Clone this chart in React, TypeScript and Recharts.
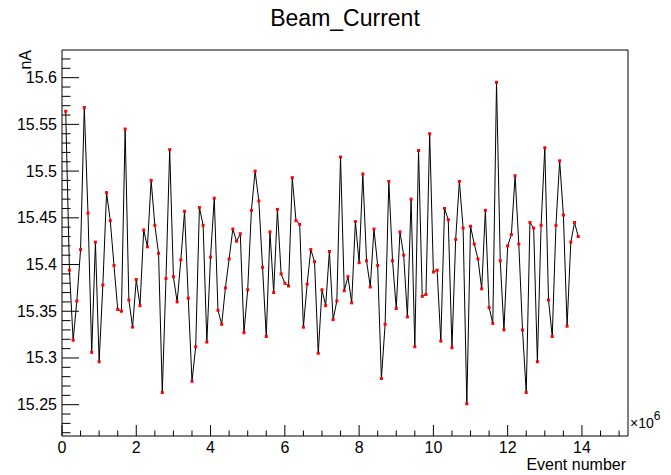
import React from "react";
import { LineChart, Line, XAxis, YAxis } from "recharts";

// Beam current per 100k events (nA)
const beamCurrent = [
  15.564, 15.394, 15.319, 15.361, 15.416, 15.568, 15.455, 15.306, 15.424, 15.296,
  15.378, 15.477, 15.447, 15.399, 15.352, 15.35, 15.545, 15.362, 15.333, 15.384,
  15.356, 15.437, 15.419, 15.49, 15.442, 15.412, 15.263, 15.385, 15.523, 15.387,
  15.36, 15.405, 15.457, 15.364, 15.275, 15.312, 15.461, 15.442, 15.317, 15.408,
  15.471, 15.351, 15.336, 15.375, 15.406, 15.438, 15.425, 15.433, 15.327, 15.373,
  15.458, 15.5, 15.468, 15.397, 15.323, 15.435, 15.37, 15.459, 15.39, 15.38,
  15.377, 15.493, 15.447, 15.443, 15.333, 15.379, 15.416, 15.403, 15.305, 15.373,
  15.356, 15.414, 15.341, 15.361, 15.515, 15.372, 15.387, 15.359, 15.446, 15.402,
  15.497, 15.404, 15.376, 15.438, 15.399, 15.278, 15.336, 15.489, 15.404, 15.353,
  15.435, 15.41, 15.344, 15.47, 15.312, 15.522, 15.366, 15.368, 15.54, 15.392,
  15.394, 15.318, 15.46, 15.448, 15.311, 15.427, 15.489, 15.439, 15.251, 15.441,
  15.422, 15.406, 15.374, 15.458, 15.354, 15.337, 15.595, 15.404, 15.33, 15.42,
  15.432, 15.495, 15.422, 15.33, 15.263, 15.445, 15.439, 15.296, 15.442, 15.525,
  15.362, 15.323, 15.442, 15.511, 15.453, 15.334, 15.424, 15.445, 15.43,
];

const eventStep = 100000;
const xMajorTicks = [0, 2, 4, 6, 8, 10, 12, 14]; // x10^6
const xMinorStep = 0.5;
const yMajorTicks = [15.25, 15.3, 15.35, 15.4, 15.45, 15.5, 15.55, 15.6];
const yMinorStep = 0.01;

const xDomain: [number, number] = [0, 15.24e6];
const yDomain: [number, number] = [15.2165, 15.6296];

const W = 671;
const H = 475;
const FONT = "'Liberation Sans', Arial, Helvetica, sans-serif";

const data = beamCurrent.map((v, i) => ({ event: (i + 1) * eventStep, current: v }));

const xTicks: number[] = [];
for (let k = 0; k * xMinorStep * 1e6 <= xDomain[1]; k++) xTicks.push(k * xMinorStep * 1e6);

const yTicks: number[] = [];
for (let k = Math.ceil(yDomain[0] / yMinorStep); k * yMinorStep <= yDomain[1]; k++) {
  yTicks.push(Math.round(k * yMinorStep * 100) / 100);
}

const isYMajor = (v: number) => yMajorTicks.some((t) => Math.abs(t - v) < 1e-6);
const isXMajor = (v: number) => xMajorTicks.some((t) => Math.abs(t * 1e6 - v) < 1);

// ticks point into the frame, labels only on the major ones
function YTick(props: any) {
  const { x, y, payload } = props;
  const major = isYMajor(payload.value);
  return (
    <g>
      <line x1={x} x2={x + (major ? 17 : 8.5)} y1={y} y2={y} stroke="#000" strokeWidth={1} />
      {major && (
        <text x={x - 5} y={y + 5.5} textAnchor="end" fontSize={16} fill="#000" fontFamily={FONT}>
          {String(payload.value)}
        </text>
      )}
    </g>
  );
}

function XTick(props: any) {
  const { x, y, payload } = props;
  const major = isXMajor(payload.value);
  return (
    <g>
      <line x1={x} x2={x} y1={y} y2={y - (major ? 11 : 5.5)} stroke="#000" strokeWidth={1} />
      {major && (
        <text x={x} y={y + 17} textAnchor="middle" fontSize={16} fill="#000" fontFamily={FONT}>
          {String(Math.round(payload.value / 1e6))}
        </text>
      )}
    </g>
  );
}

function PointMarker(props: any) {
  const { cx, cy } = props;
  if (cx == null || cy == null) return null;
  return <rect x={cx - 1.5} y={cy - 1.5} width={3} height={3} fill="#ff0000" />;
}

export default function App() {
  return (
    <div style={{ position: "absolute", left: 0, top: 0, width: W, height: H, background: "#fff" }}>
      <LineChart
        width={W}
        height={H}
        data={data}
        margin={{ top: 49, right: 42, left: 0, bottom: 0 }}
        style={{ fontFamily: FONT }}
      >
        <XAxis
          xAxisId="main"
          dataKey="event"
          type="number"
          domain={xDomain}
          allowDataOverflow
          ticks={xTicks}
          interval={0}
          height={39}
          tickSize={0}
          tickMargin={0}
          tickLine={false}
          axisLine={{ stroke: "#000", strokeWidth: 1 }}
          tick={(p: any) => <XTick {...p} />}
        />
        <XAxis
          xAxisId="top"
          orientation="top"
          dataKey="event"
          type="number"
          domain={xDomain}
          allowDataOverflow
          height={1}
          tick={false}
          tickLine={false}
          axisLine={{ stroke: "#000", strokeWidth: 1 }}
        />
        <YAxis
          yAxisId="main"
          type="number"
          domain={yDomain}
          allowDataOverflow
          ticks={yTicks}
          interval={0}
          width={62}
          tickSize={0}
          tickMargin={0}
          tickLine={false}
          axisLine={{ stroke: "#000", strokeWidth: 1 }}
          tick={(p: any) => <YTick {...p} />}
        />
        <YAxis
          yAxisId="right"
          orientation="right"
          type="number"
          domain={yDomain}
          allowDataOverflow
          width={1}
          tick={false}
          tickLine={false}
          axisLine={{ stroke: "#000", strokeWidth: 1 }}
        />
        <Line
          xAxisId="main"
          yAxisId="main"
          type="linear"
          dataKey="current"
          stroke="#000"
          strokeWidth={1}
          dot={(p: any) => <PointMarker key={p.index} {...p} />}
          activeDot={false}
          isAnimationActive={false}
        />
        <text x={345} y={26} textAnchor="middle" fontSize={23} fill="#000" fontFamily={FONT}>
          Beam_Current
        </text>
        <text
          x={30.5}
          y={50}
          textAnchor="end"
          fontSize={16}
          fill="#000"
          fontFamily={FONT}
          transform="rotate(-90 30.5 50)"
        >
          nA
        </text>
        <text x={626} y={470} textAnchor="end" fontSize={16} fill="#000" fontFamily={FONT}>
          Event number
        </text>
        <text x={630} y={428} fontSize={14} fill="#000" fontFamily={FONT}>
          ×10
          <tspan dy={-8} fontSize={12}>
            6
          </tspan>
        </text>
      </LineChart>
    </div>
  );
}
